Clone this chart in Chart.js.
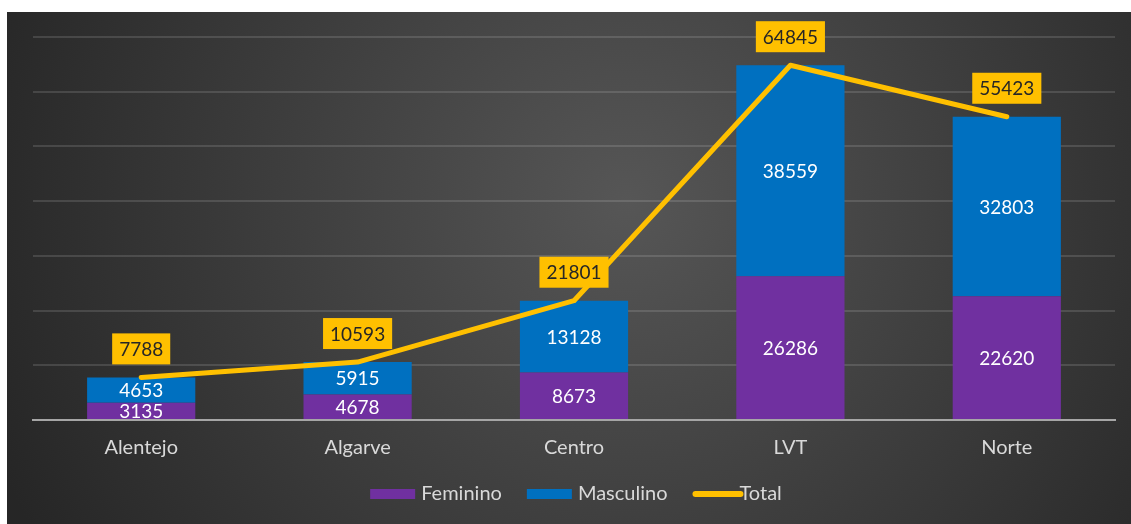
<!DOCTYPE html>
<html><head><meta charset="utf-8">
<script src="https://cdn.jsdelivr.net/npm/chart.js@4/dist/chart.umd.min.js"></script>
<style>
html,body{margin:0;padding:0;background:#fff;overflow:hidden;width:1131px;height:524px}
#wrap{position:absolute;left:7px;top:12px;width:1124px;height:512px}
</style></head>
<body><div id="wrap"><canvas id="c"></canvas></div>
<script>
const categories = ['Alentejo','Algarve','Centro','LVT','Norte'];
const feminino = [3135, 4678, 8673, 26286, 22620];
const masculino = [4653, 5915, 13128, 38559, 32803];
const total = [7788, 10593, 21801, 64845, 55423];
const yMax = 70000, yStep = 10000;

const FONT = 'Lato, "Noto Sans", sans-serif';
const C_FEM = '#7030A0', C_MAS = '#0070C0', C_TOT = '#FFC000';

const bgPlugin = {
  id: 'bg',
  beforeDraw(chart) {
    const ctx = chart.ctx, w = chart.width, h = chart.height;
    ctx.save();
    const g = ctx.createRadialGradient(620, 190, 0, 620, 190, 680);
    g.addColorStop(0, '#565656');
    g.addColorStop(1, '#262626');
    ctx.fillStyle = g;
    ctx.fillRect(0, 0, w, h);
    ctx.restore();
  }
};

const labelPlugin = {
  id: 'labels',
  afterDatasetsDraw(chart) {
    const ctx = chart.ctx, ca = chart.chartArea;
    ctx.save();
    ctx.font = '19px ' + FONT;
    ctx.textAlign = 'center';
    ctx.textBaseline = 'middle';
    [0, 1].forEach(di => {
      const meta = chart.getDatasetMeta(di);
      const vals = chart.data.datasets[di].data;
      meta.data.forEach((el, i) => {
        ctx.save();
        ctx.beginPath();
        ctx.rect(ca.left, ca.top, ca.right - ca.left, ca.bottom - ca.top);
        ctx.clip();
        ctx.fillStyle = '#ffffff';
        ctx.fillText(String(vals[i]), el.x, (el.y + el.base) / 2 + 1);
        ctx.restore();
      });
    });
    const lm = chart.getDatasetMeta(2);
    lm.data.forEach((el, i) => {
      const txt = String(total[i]);
      const tw = ctx.measureText(txt).width;
      const bw = tw + 14, bh = 31;
      const bx = el.x - bw / 2, by = el.y - 13 - bh;
      ctx.fillStyle = C_TOT;
      ctx.fillRect(bx, by, bw, bh);
      ctx.fillStyle = '#262626';
      ctx.fillText(txt, el.x, by + bh / 2 + 1);
    });
    ctx.restore();
  },
  afterDraw(chart) {
    const ctx = chart.ctx, ca = chart.chartArea;
    ctx.save();
    ctx.font = '20px ' + FONT;
    ctx.textBaseline = 'middle';
    const items = [
      {t: 'Feminino', c: C_FEM, line: false},
      {t: 'Masculino', c: C_MAS, line: false},
      {t: 'Total', c: C_TOT, line: true}
    ];
    const box = 45, gapT = 6, gapI = 25;
    let tot = 0;
    items.forEach((it, i) => { it.w = ctx.measureText(it.t).width; tot += box + gapT + it.w + (i < items.length - 1 ? gapI : 0); });
    let x = (ca.left + ca.right) / 2 - tot / 2 + 4;
    const y = 482;
    items.forEach(it => {
      if (it.line) {
        ctx.strokeStyle = it.c; ctx.lineWidth = 6; ctx.lineCap = 'round';
        ctx.beginPath(); ctx.moveTo(x + 3, y); ctx.lineTo(x + box + 3, y); ctx.stroke();
        x += box + 2;
      } else {
        ctx.fillStyle = it.c;
        ctx.fillRect(x, y - 5, box, 10);
        x += box + gapT;
      }
      ctx.fillStyle = '#d9d9d9';
      ctx.fillText(it.t, x, y);
      x += it.w + gapI;
    });
    ctx.restore();
  }
};

new Chart(document.getElementById('c'), {
  data: {
    labels: categories,
    datasets: [
      {type: 'bar', label: 'Feminino', data: feminino, backgroundColor: C_FEM, order: 1, stack: 'bars'},
      {type: 'bar', label: 'Masculino', data: masculino, backgroundColor: C_MAS, order: 1, stack: 'bars'},
      {type: 'line', label: 'Total', data: total, borderColor: C_TOT, borderWidth: 5, pointRadius: 0,
       borderJoinStyle: 'round', borderCapStyle: 'round', tension: 0, order: 0, stack: 'total'}
    ]
  },
  options: {
    responsive: true,
    maintainAspectRatio: false,
    animation: false,
    layout: {padding: {left: 26, right: 16, top: 25, bottom: 0}},
    plugins: {legend: {display: false}, tooltip: {enabled: false}},
    datasets: {bar: {categoryPercentage: 1, barPercentage: 0.5}},
    scales: {
      x: {
        stacked: true,
        grid: {display: false, drawTicks: false},
        border: {display: true, color: '#a6a6a6', width: 2},
        ticks: {color: '#d9d9d9', font: {family: FONT, size: 20}, padding: 16},
        afterFit(s) { s.height = 104; }
      },
      y: {
        stacked: true,
        min: 0, max: yMax,
        ticks: {display: false, stepSize: yStep},
        border: {display: false},
        grid: {
          drawTicks: false,
          lineWidth: 2,
          color: c => c.tick.value === 0 ? 'rgba(0,0,0,0)' : 'rgba(255,255,255,0.13)'
        },
        afterFit(s) { s.width = 0; }
      }
    }
  },
  plugins: [bgPlugin, labelPlugin]
});
</script>
</body></html>
